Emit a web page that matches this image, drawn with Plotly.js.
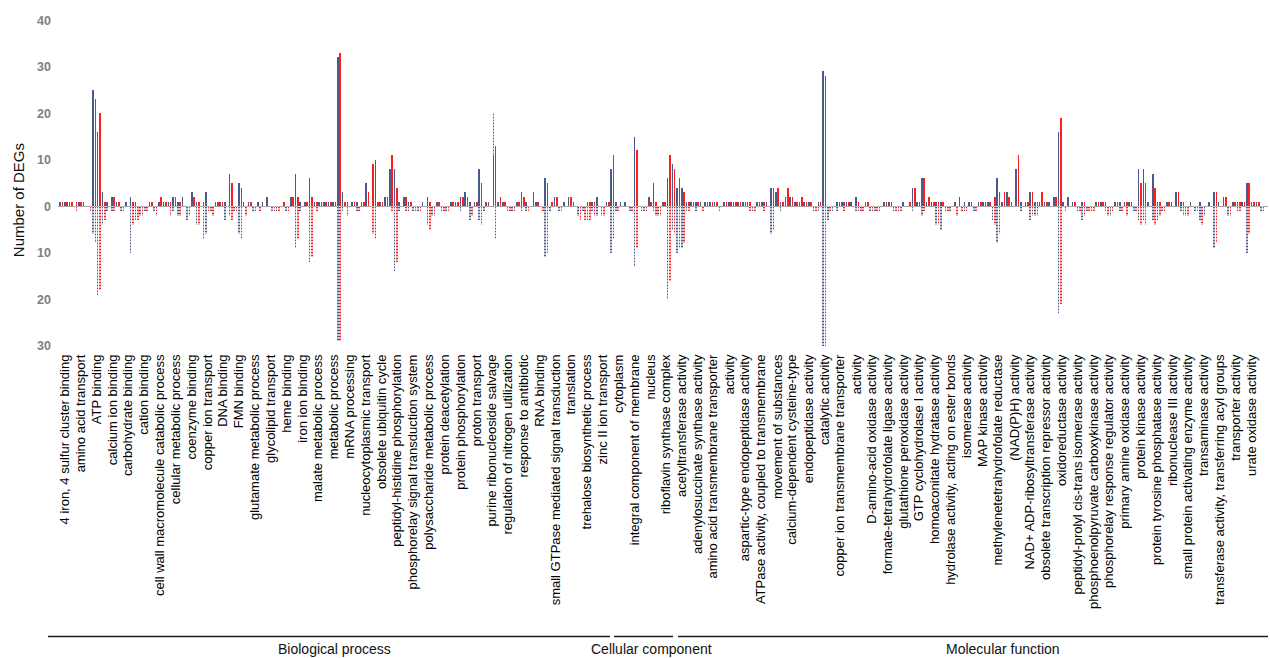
<!DOCTYPE html>
<html>
<head>
<meta charset="utf-8">
<script src="https://cdn.plot.ly/plotly-3.0.1.min.js"></script>
<style>
  html, body { margin: 0; padding: 0; background: #ffffff; }
  #chart { width: 1270px; height: 658px; }
</style>
</head>
<body>
<div id="chart"></div>
<script>
// GO terms shown on the x axis (<br> marks a wrapped label)
const terms = [
  '4 iron, 4 sulfur cluster binding',
  'amino acid transport',
  'ATP binding',
  'calcium ion binding',
  'carbohydrate binding',
  'cation binding',
  'cell wall macromolecule catabolic process',
  'cellular metabolic process',
  'coenzyme binding',
  'copper ion transport',
  'DNA binding',
  'FMN binding',
  'glutamate metabolic process',
  'glycolipid transport',
  'heme binding',
  'iron ion binding',
  'malate metabolic process',
  'metabolic process',
  'mRNA processing',
  'nucleocytoplasmic transport',
  'obsolete ubiquitin cycle',
  'peptidyl-histidine phosphorylation',
  'phosphorelay signal transduction system',
  'polysaccharide metabolic process',
  'protein deacetylation',
  'protein phosphorylation',
  'proton transport',
  'purine ribonucleoside salvage',
  'regulation of nitrogen utilization',
  'response to antibiotic',
  'RNA binding',
  'small GTPase mediated signal transduction',
  'translation',
  'trehalose biosynthetic process',
  'zinc II ion transport',
  'cytoplasm',
  'integral component of membrane',
  'nucleus',
  'riboflavin synthase complex',
  'acetyltransferase activity',
  'adenylosuccinate synthase activity',
  'amino acid transmembrane transporter<br>activity',
  'aspartic-type endopeptidase activity',
  'ATPase activity, coupled to transmembrane<br>movement of substances',
  'calcium-dependent cysteine-type<br>endopeptidase activity',
  'catalytic activity',
  'copper ion transmembrane transporter<br>activity',
  'D-amino-acid oxidase activity',
  'formate-tetrahydrofolate ligase activity',
  'glutathione peroxidase activity',
  'GTP cyclohydrolase I activity',
  'homoaconitate hydratase activity',
  'hydrolase activity, acting on ester bonds',
  'isomerase activity',
  'MAP kinase activity',
  'methylenetetrahydrofolate reductase<br>(NAD(P)H) activity',
  'NAD+ ADP-ribosyltransferase activity',
  'obsolete transcription repressor activity',
  'oxidoreductase activity',
  'peptidyl-prolyl cis-trans isomerase activity',
  'phosphoenolpyruvate carboxykinase activity',
  'phosphorelay response regulator activity',
  'primary amine oxidase activity',
  'protein kinase activity',
  'protein tyrosine phosphatase activity',
  'ribonuclease III activity',
  'small protein activating enzyme activity',
  'transaminase activity',
  'transferase activity, transferring acyl groups',
  'transporter activity',
  'urate oxidase activity'
];

// ontology groups and how many terms each holds (in order)
const groupNames = ['Biological process', 'Cellular component', 'Molecular function'];
const groupSizes = [35, 4, 32];

// DEG counts, one entry per blue/red bar pair along the axis
const blueUp = [
  1,1,1,0,1,1,0,25,16,3,1,2,1,0,1,2,
  1,0,0,1,0,1,1,1,2,1,2,0,3,1,0,3,
  0,1,1,1,7,0,5,1,1,0,1,1,2,0,0,0,
  0,2,7,1,1,6,1,1,1,1,1,32,3,1,1,1,
  1,5,0,10,1,2,8,8,1,2,1,0,0,1,2,0,
  1,0,0,1,1,2,3,1,1,8,0,1,11,1,1,0,
  0,1,3,1,0,1,0,6,0,2,0,1,2,1,0,0,
  1,1,2,0,1,8,1,1,1,0,15,0,0,2,5,0,
  1,6,9,4,4,1,1,1,1,1,1,1,0,1,1,1,
  1,1,1,0,1,1,1,4,3,1,2,2,1,1,1,1,
  0,1,29,0,0,1,1,1,1,2,0,1,0,0,0,1,
  1,0,0,1,0,4,1,6,1,1,1,1,0,0,1,2,
  1,1,0,1,1,1,0,6,1,3,1,8,1,1,3,1,
  1,1,1,2,16,1,2,1,0,1,0,0,1,1,1,0,
  1,1,1,1,0,8,8,1,7,1,0,1,1,3,1,0,
  1,0,1,0,1,3,1,2,0,1,1,1,5,1,1,0
];
const redUp = [
  1,1,1,1,1,0,0,23,20,1,0,2,1,0,0,1,
  0,0,0,1,0,2,1,1,2,1,0,0,2,1,1,0,
  0,1,1,0,5,0,4,0,1,0,0,0,0,0,0,1,
  0,2,2,0,1,2,1,1,1,1,1,33,1,0,1,0,
  1,3,9,1,1,2,11,4,0,2,1,0,0,0,1,0,
  1,0,0,1,1,2,2,0,1,5,1,0,13,2,1,0,
  0,1,2,0,3,1,0,5,1,2,0,0,2,0,0,0,
  1,1,0,0,1,11,0,0,0,0,12,0,0,1,1,0,
  1,11,8,6,3,1,1,1,0,1,1,1,0,1,1,1,
  1,1,1,0,1,1,0,4,4,1,4,2,1,2,1,1,
  0,1,28,0,0,1,1,1,0,1,0,1,0,0,0,1,
  1,0,0,0,1,4,1,6,2,1,1,1,0,0,0,0,
  0,1,0,1,1,1,2,3,3,2,0,11,0,1,3,1,
  3,1,0,2,19,0,0,1,0,1,0,0,1,1,0,0,
  1,0,1,1,0,5,5,0,4,1,0,1,0,3,1,0,
  0,0,0,0,0,3,0,2,0,1,1,1,5,1,1,0
];
const blueDown = [
  0,0,0,0,0,0,0,-6,-19,-4,-1,-1,0,-1,0,-10,
  -3,-2,-1,0,-1,0,0,0,-1,-2,0,-3,0,-4,0,-6,
  -1,0,0,-3,-2,-1,-6,0,0,-1,0,0,0,-1,-1,0,
  -1,0,-9,-1,0,-12,0,0,0,0,0,-29,-1,-2,0,-1,
  0,0,0,-7,0,0,0,-14,-1,0,-1,-1,-1,0,-4,-2,
  0,-1,-1,0,0,-1,0,-3,0,-3,-1,0,20,0,0,-1,
  -1,0,-1,-1,0,0,0,-11,-1,0,-1,0,0,0,-2,-1,
  -3,-1,-2,-2,0,-10,-1,0,0,-1,-13,0,-1,0,-1,-2,
  0,-20,-5,-10,-9,-1,0,-1,0,0,0,0,-1,0,0,0,
  0,0,0,-1,0,0,0,-6,0,-1,0,0,0,0,0,0,
  -1,-1,-30,-3,-1,-1,0,0,0,-1,-1,0,-1,-1,-1,0,
  0,-1,-1,0,0,-1,0,-2,0,0,-4,-5,-1,-1,0,0,
  -1,0,-1,0,0,0,-3,-8,0,0,0,0,-1,0,-3,-2,
  0,0,0,0,-23,0,0,0,-1,-3,-1,-1,0,0,-1,-2,
  0,-1,0,0,-1,-3,-3,0,-3,-3,-1,0,0,0,-1,-2,
  0,-1,-3,-2,0,-9,0,0,-2,0,-1,0,-10,0,0,-1
];
const redDown = [
  0,0,0,-1,0,0,-1,-8,-18,-3,0,-1,0,-1,0,-4,
  -3,-2,-1,0,-2,0,0,-2,0,-2,0,-2,0,-4,-7,-1,
  -2,0,0,0,-3,-1,-7,-2,0,-1,-1,0,0,-1,-1,0,
  -1,0,-7,0,0,-11,-1,0,0,0,0,-29,0,0,0,-1,
  0,0,-6,0,0,0,-1,-12,0,-1,0,-1,-1,0,-5,-2,
  0,-1,-1,0,0,0,0,-2,0,-4,0,0,-7,0,0,-1,
  -1,0,0,-1,0,0,-1,-10,0,0,-1,0,0,0,-3,-3,
  -3,-2,0,-2,0,-7,-1,0,0,-1,-9,-1,-1,0,-2,-2,
  0,-16,-6,-9,-8,-1,0,0,-1,0,0,0,0,0,0,0,
  0,0,-1,-1,0,-1,0,-5,0,0,0,0,0,0,0,0,
  -1,0,-30,-1,0,0,-1,0,0,-1,-1,0,-1,-1,0,0,
  0,-1,-1,0,0,0,0,-1,0,0,-4,0,-1,0,-2,-1,
  -1,0,-1,0,0,0,-4,-6,0,0,0,0,0,0,-2,-2,
  0,0,0,0,-21,-1,0,0,-1,-2,-1,-1,0,0,-2,-1,
  0,-1,-2,0,-1,-4,-4,0,-4,-2,-1,0,0,0,-2,-2,
  0,-1,-4,0,0,-8,0,0,-2,0,-1,0,-6,0,0,-1
];

// ---- page geometry (pixels) ----
const FIG_W = 1270, FIG_H = 658;
const plotLeft = 58, plotRight = 1268, plotTop = 20, plotBottom = 345.7;
const pairPx = 4.71;        // distance between neighbouring bar pairs
const firstPairPx = 61.18;  // centre of the first pair
const linePx = 15.82;       // distance between label lines
const firstLinePx = 65;     // first label line
const yMin = -30, yMax = 40;

const toPair = px => (px - firstPairPx) / pairPx;
const paperX = px => (px - plotLeft) / (plotRight - plotLeft);
const paperY = py => (plotBottom - py) / (plotBottom - plotTop);

const BLUE = '#4b5b88';
const RED = '#ff1e1e';
const LABEL_FONT = 'Liberation Sans, Arial, Helvetica, sans-serif';

// bar positions: blue sits left, red right inside each pair
const pairIdx = blueUp.map((_, i) => i);
const blueX = pairIdx.map(i => i - 0.25);
const redX = pairIdx.map(i => i + 0.25);
const BAR_W = 0.34;

// tick positions follow the label lines; wrapped labels span two lines
const tickvals = [];
let line = 0;
terms.forEach(t => {
  const n = t.split('<br>').length;
  const centreLine = line + (n - 1) / 2;
  tickvals.push(toPair(firstLinePx + linePx * centreLine));
  line += n;
});

function dotted(color, light) {
  return {
    color: light,
    line: { width: 0 },
    pattern: { shape: '-', size: 3, solidity: 0.5, fgcolor: color, bgcolor: light, fillmode: 'replace' }
  };
}

const traces = [
  { type: 'bar', name: 'blue down', x: blueX, y: blueDown, width: BAR_W, marker: dotted(BLUE, '#e4e7f0'), hoverinfo: 'y' },
  { type: 'bar', name: 'red down', x: redX, y: redDown, width: BAR_W, marker: dotted(RED, '#ffe4e4'), hoverinfo: 'y' },
  { type: 'bar', name: 'blue up', x: blueX, y: blueUp, width: BAR_W, marker: { color: BLUE, line: { width: 0 } }, hoverinfo: 'y' },
  { type: 'bar', name: 'red up', x: redX, y: redUp, width: BAR_W, marker: { color: RED, line: { width: 0 } }, hoverinfo: 'y' }
];

// ontology brackets under the labels
const groupSpanPx = [[48, 610], [614, 673], [678, 1268]];
const groupLabelPx = [334, 651, 1003];
const bracketY = 636;
const groupLabelY = 648;

const shapes = groupSpanPx.map(([a, b]) => ({
  type: 'line', xref: 'paper', yref: 'paper',
  x0: paperX(a), x1: paperX(b), y0: paperY(bracketY), y1: paperY(bracketY),
  line: { color: '#1e1e1e', width: 1.6 }
}));

const annotations = groupNames.map((g, i) => ({
  text: g, xref: 'paper', yref: 'paper',
  x: paperX(groupLabelPx[i]), y: paperY(groupLabelY),
  xanchor: 'center', yanchor: 'middle', showarrow: false,
  font: { family: LABEL_FONT, size: 14, color: '#111111' }
}));
annotations.push({
  text: 'Number of DEGs', xref: 'paper', yref: 'paper',
  x: paperX(18), y: paperY(200), xanchor: 'center', yanchor: 'middle',
  textangle: -90, showarrow: false,
  font: { family: LABEL_FONT, size: 15, color: '#111111' }
});

const yTicks = [-30, -20, -10, 0, 10, 20, 30, 40];

const layout = {
  width: FIG_W, height: FIG_H,
  margin: { l: plotLeft, r: FIG_W - plotRight, t: plotTop - 0.25, b: FIG_H - plotBottom - 0.25 },
  paper_bgcolor: '#ffffff', plot_bgcolor: '#ffffff',
  barmode: 'overlay', bargap: 0, showlegend: false,
  xaxis: {
    range: [toPair(plotLeft), toPair(plotRight)],
    tickmode: 'array', tickvals: tickvals, ticktext: terms,
    tickangle: -90, ticks: '', showgrid: false, zeroline: false, showline: false,
    automargin: false, ticklabelstandoff: 5,
    tickfont: { family: LABEL_FONT, size: 13, color: '#000000' }
  },
  yaxis: {
    range: [yMin - 0.05, yMax + 0.05],
    tickmode: 'array', tickvals: yTicks, ticktext: yTicks.map(v => String(Math.abs(v))),
    ticks: '', showgrid: false, showline: false, automargin: false,
    zeroline: true, zerolinecolor: '#a8a8a8', zerolinewidth: 1.5,
    ticklabelstandoff: 6,
    tickfont: { family: LABEL_FONT, size: 12.5, color: '#808080', weight: 'bold' }
  },
  shapes: shapes,
  annotations: annotations
};

Plotly.newPlot('chart', traces, layout, { staticPlot: true, displayModeBar: false });
</script>
</body>
</html>
